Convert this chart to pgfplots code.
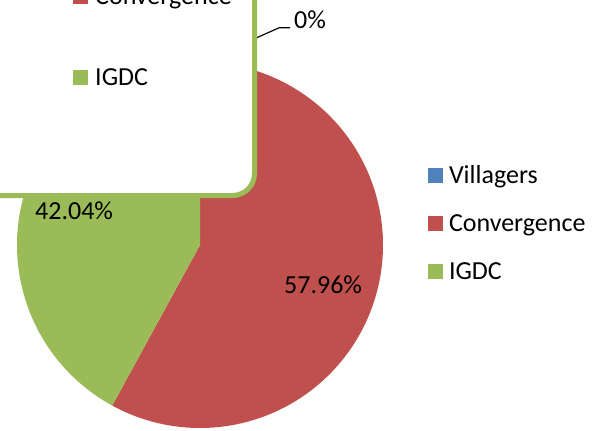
\documentclass[border=0pt]{standalone}
\usepackage{fontspec}
\setmainfont{Carlito}
\usepackage{pgfplots}
\pgfplotsset{compat=1.18}
\definecolor{vill}{HTML}{4F81BD}
\definecolor{conv}{HTML}{C0504D}
\definecolor{igdc}{HTML}{9BBB59}
% shares in percent
\def\pVill{0}
\def\pConv{57.96}
\def\pIGDC{42.04}
\pgfmathsetmacro\aA{90-3.6*\pVill}
\pgfmathsetmacro\aB{\aA-3.6*\pConv}
\pgfmathsetmacro\aC{\aB-3.6*\pIGDC}
\def\cx{200}\def\cy{245}\def\R{183}
\begin{document}
\begin{tikzpicture}[font=\fontsize{26}{31}\selectfont]
\useasboundingbox (0,0) rectangle (608pt,431pt);
\clip (0,0) rectangle (608pt,431pt);
\begin{axis}[at={(0pt,0pt)}, anchor=south west, scale only axis,
  width=608pt, height=431pt, xmin=0, xmax=608, ymin=0, ymax=431,
  y dir=reverse, hide axis, clip=true,
  legend image code/.code={\fill[#1] (0pt,-6.5pt) rectangle (15pt,8.5pt);},
  legend cell align=left,
  legend style={draw=none, fill=none, at={(axis cs:428,165)}, anchor=north west,
    inner sep=0pt, outer sep=0pt, row sep=25pt, column sep=6pt,
    font=\fontsize{26}{31}\selectfont,
    nodes={inner sep=0pt, text height=18pt, text depth=5pt}},
]
\addlegendimage{fill=vill, draw=none}
\addlegendentry{Villagers}
\addplot[fill=conv, draw=none, domain=\aB:\aA, samples=200]
  ({\cx+\R*cos(x)},{\cy-\R*sin(x)}) -- (axis cs:\cx,\cy) -- cycle;
\addlegendentry{Convergence}
\addplot[fill=igdc, draw=none, domain=\aC:\aB, samples=200]
  ({\cx+\R*cos(x)},{\cy-\R*sin(x)}) -- (axis cs:\cx,\cy) -- cycle;
\addlegendentry{IGDC}
\node[anchor=base west, inner sep=0pt] at (axis cs:35,219) {42.04\%};
\node[anchor=base west, inner sep=0pt] at (axis cs:284,293) {57.96\%};
\draw[line width=1.2pt] (axis cs:230,49.6) -- (axis cs:279.3,27.7) -- (axis cs:290,27.7);
\node[anchor=base west, inner sep=0pt] at (axis cs:294,28) {0\%};
% overlapping legend box
\draw[line width=5pt, draw=igdc, fill=white, rounded corners=22pt]
  (axis cs:-60,-60) rectangle (axis cs:254.5,195.5);
\fill[conv] (axis cs:73.3,-10.7) rectangle (axis cs:87.7,4.3);
\node[anchor=base west, inner sep=0pt] at (axis cs:95,4.5) {Convergence};
\fill[igdc] (axis cs:73.3,70) rectangle (axis cs:87.7,85);
\node[anchor=base west, inner sep=0pt] at (axis cs:95,85) {IGDC};
\end{axis}
\end{tikzpicture}
\end{document}
